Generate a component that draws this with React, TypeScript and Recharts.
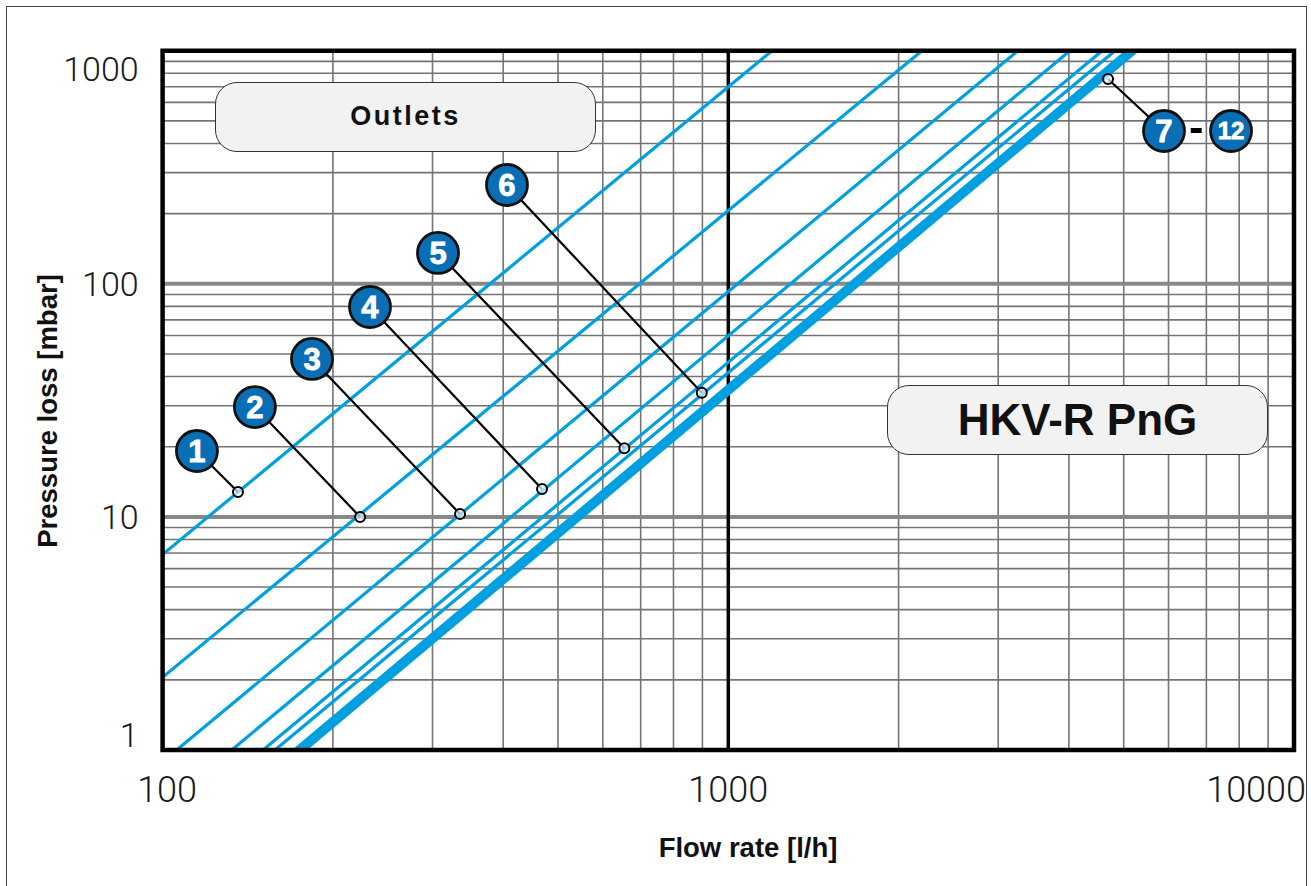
import React from 'react';
import { LineChart, Line, XAxis, YAxis, ReferenceLine, ReferenceDot, ReferenceArea } from 'recharts';

// ---- axes ----
const flowDomain: [number, number] = [100, 10000];
const lossDomain: [number, number] = [1, 1000];
const flowTicks = [100, 1000, 10000];
const lossTicks = [1, 10, 100, 1000];
const flowMinorGrid = [200, 300, 400, 500, 600, 700, 800, 900, 2000, 3000, 4000, 5000, 6000, 7000, 8000, 9000];
const flowMajorGrid = [1000];
const lossMinorGrid = [2, 3, 4, 5, 6, 7, 8, 9, 20, 30, 40, 50, 60, 70, 80, 90, 200, 300, 400, 500, 600, 700, 800, 900];
const lossMajorGrid = [10, 100];

// ---- outlet characteristic lines (start point / end point, flow l/h, loss mbar) ----
const outletIds = ['1', '2', '3', '4', '5', '6', '7', '8', '9', '10', '11', '12'];
const startFlow = [100, 100, 105.9, 132.5, 150.5, 158, 171, 172.5, 174, 175.5, 177, 178.5];
const startLoss = [6.9, 2.05, 1, 1, 1, 1, 1, 1, 1, 1, 1, 1];
const endFlow = [1195, 2200, 3252, 4018, 4581, 4827, 5070, 5110, 5150, 5190, 5230, 5280];
const endLoss = [1000, 1000, 1000, 1000, 1000, 1000, 1000, 1000, 1000, 1000, 1000, 1000];

// ---- callouts ----
const calloutLabels = ['1', '2', '3', '4', '5', '6', '7'];
const calloutPointFlow = [135.9, 223.4, 335.6, 468.5, 655, 897.6, 4691];
const calloutPointLoss = [12.79, 10.0, 10.29, 13.17, 19.7, 34.1, 756];
const calloutBadgeFlow = [115.0, 145.6, 183.7, 232.6, 306.8, 406.2, 5891];
const calloutBadgeLoss = [19.17, 29.6, 47.6, 79.5, 135.6, 265.4, 452.4];
const rangeEndLabel = '12';
const rangeEndFlow = 7740;
const rangeEndLoss = 452.4;
const rangeDashFlow = [6568, 6867];
const rangeDashLoss = 454.7;

const lineBlue = '#00a0e0';
const badgeBlue = '#0a6eb4';
const gridGray = '#747474';

const lineData = outletIds.map((id, i) => ({
  id,
  data: [
    { q: startFlow[i], p: startLoss[i] },
    { q: endFlow[i], p: endLoss[i] },
  ],
}));

const tickFont = 'Roboto, "Liberation Sans", Arial, sans-serif';
const boldFont = '"Liberation Sans", Arial, Helvetica, sans-serif';

const XTick = (props: any) => {
  const { x, y, payload } = props;
  const v = payload.value;
  let anchor: any = 'middle';
  let dx = 0;
  if (v === 10000) {
    anchor = 'end';
    dx = 12;
  }
  if (v === 100) dx = 4.5;
  return (
    <text x={x + dx} y={y + 52} textAnchor={anchor} fontSize={36} fontFamily={tickFont} fontWeight={300} fill="#1a1a1a">
      {v}
    </text>
  );
};

const YTick = (props: any) => {
  const { x, y, payload } = props;
  const v = payload.value;
  let dy = 12;
  if (v === 1000) dy = 30;
  if (v === 1) dy = -3;
  return (
    <text x={x - 24} y={y + dy} textAnchor="end" fontSize={34} fontFamily={tickFont} fontWeight={300} fill="#1a1a1a">
      {v}
    </text>
  );
};

const makeBadge = (label: string) => (props: any) => {
  const { cx, cy } = props;
  return (
    <g>
      <circle cx={cx} cy={cy} r={20.5} fill={badgeBlue} stroke="#111" strokeWidth={2.8} />
      <text
        x={cx}
        y={cy}
        dy={label.length > 1 ? 8.5 : 11}
        textAnchor="middle"
        fill="#fff"
        fontSize={label.length > 1 ? 24 : 31}
        fontWeight={900}
        fontFamily={boldFont}
        stroke="#fff"
        strokeWidth={0.8}
      >
        {label}
      </text>
    </g>
  );
};

const smallDot = (props: any) => {
  const { cx, cy } = props;
  return <circle cx={cx} cy={cy} r={5} fill="#e6f4fb" fillOpacity={0.7} stroke="#000" strokeWidth={2} />;
};

export default function App() {
  return (
    <div style={{ position: 'absolute', left: 0, top: 0, width: 1311, height: 886, overflow: 'hidden', background: '#fff' }}>
      <div
        style={{
          position: 'absolute',
          left: 6,
          top: 6,
          width: 1301,
          height: 920,
          border: '1.5px solid #444',
          boxSizing: 'border-box',
        }}
      />
      <div style={{ position: 'absolute', left: 0, top: 0 }}>
        <LineChart width={1311} height={886} margin={{ top: 50.7, right: 17, bottom: 86, left: 62.6 }}>
          <XAxis
            type="number"
            dataKey="q"
            scale="log"
            domain={flowDomain}
            allowDataOverflow
            ticks={flowTicks}
            interval={0}
            axisLine={false}
            tickLine={false}
            tickSize={0}
            tickMargin={0}
            height={50}
            tick={(p: any) => <XTick {...p} />}
          />
          <YAxis
            type="number"
            dataKey="p"
            scale="log"
            domain={lossDomain}
            allowDataOverflow
            ticks={lossTicks}
            interval={0}
            axisLine={false}
            tickLine={false}
            tickSize={0}
            tickMargin={0}
            width={100}
            tick={(p: any) => <YTick {...p} />}
          />
          {lossMinorGrid.map((v) => (
            <ReferenceLine key={'ly' + v} y={v} stroke={gridGray} strokeWidth={1.6} zIndex={-100} />
          ))}
          {flowMinorGrid.map((v) => (
            <ReferenceLine key={'lx' + v} x={v} stroke={gridGray} strokeWidth={1.6} zIndex={-100} />
          ))}
          {lossMajorGrid.map((v) => (
            <ReferenceLine key={'my' + v} y={v} stroke="#888" strokeWidth={4} zIndex={-90} />
          ))}
          {flowMajorGrid.map((v) => (
            <ReferenceLine key={'mx' + v} x={v} stroke="#000" strokeWidth={3.5} zIndex={-90} />
          ))}
          {lineData.map((s) => (
            <Line
              key={s.id}
              data={s.data}
              dataKey="p"
              type="linear"
              stroke={lineBlue}
              strokeWidth={3.2}
              dot={false}
              activeDot={false}
              isAnimationActive={false}
              zIndex={400}
            />
          ))}
          <ReferenceArea
            x1={flowDomain[0]}
            x2={flowDomain[1]}
            y1={lossDomain[0]}
            y2={lossDomain[1]}
            fill="none"
            fillOpacity={0}
            stroke="#000"
            strokeWidth={4.5}
            ifOverflow="visible"
            zIndex={450}
          />
          {calloutLabels.map((l, i) => (
            <ReferenceLine
              key={'c' + l}
              segment={[
                { x: calloutBadgeFlow[i], y: calloutBadgeLoss[i] },
                { x: calloutPointFlow[i], y: calloutPointLoss[i] },
              ]}
              stroke="#000"
              strokeWidth={2.2}
              strokeOpacity={1}
              ifOverflow="visible"
              zIndex={500}
            />
          ))}
          <ReferenceLine
            segment={[
              { x: rangeDashFlow[0], y: rangeDashLoss },
              { x: rangeDashFlow[1], y: rangeDashLoss },
            ]}
            stroke="#000"
            strokeWidth={5}
            strokeOpacity={1}
            ifOverflow="visible"
            zIndex={500}
          />
          {calloutLabels.map((l, i) => (
            <ReferenceDot
              key={'d' + l}
              x={calloutPointFlow[i]}
              y={calloutPointLoss[i]}
              r={5}
              shape={smallDot}
              ifOverflow="visible"
              zIndex={600}
            />
          ))}
          {calloutLabels.map((l, i) => (
            <ReferenceDot
              key={'b' + l}
              x={calloutBadgeFlow[i]}
              y={calloutBadgeLoss[i]}
              r={20}
              shape={makeBadge(l)}
              ifOverflow="visible"
              zIndex={700}
            />
          ))}
          <ReferenceDot
            x={rangeEndFlow}
            y={rangeEndLoss}
            r={20}
            shape={makeBadge(rangeEndLabel)}
            ifOverflow="visible"
            zIndex={700}
          />
        </LineChart>
      </div>

      {/* Outlets box */}
      <div
        style={{
          position: 'absolute',
          left: 215,
          top: 81.5,
          width: 381,
          height: 70,
          boxSizing: 'border-box',
          borderRadius: 22,
          border: '1.2px solid #333',
          background: '#f2f2f2',
          display: 'flex',
          alignItems: 'center',
          justifyContent: 'center',
          fontFamily: boldFont,
          fontWeight: 700,
          fontSize: 27,
          letterSpacing: 2.5,
          color: '#111',
        }}
      >
        Outlets
      </div>

      {/* HKV-R PnG box */}
      <div
        style={{
          position: 'absolute',
          left: 887,
          top: 384.5,
          width: 381,
          height: 70,
          boxSizing: 'border-box',
          borderRadius: 22,
          border: '1.2px solid #333',
          background: '#f2f2f2',
          display: 'flex',
          alignItems: 'center',
          justifyContent: 'center',
          fontFamily: boldFont,
          fontWeight: 700,
          fontSize: 44,
          color: '#111',
        }}
      >
        HKV-R PnG
      </div>

      {/* axis titles */}
      <div
        style={{
          position: 'absolute',
          left: 48 - 200,
          top: 411 - 20,
          width: 400,
          height: 40,
          lineHeight: '40px',
          textAlign: 'center',
          transform: 'rotate(-90deg)',
          fontFamily: boldFont,
          fontWeight: 700,
          fontSize: 27.5,
          color: '#111',
          whiteSpace: 'nowrap',
        }}
      >
        Pressure loss [mbar]
      </div>
      <div
        style={{
          position: 'absolute',
          left: 748 - 200,
          top: 848 - 20,
          width: 400,
          height: 40,
          lineHeight: '40px',
          textAlign: 'center',
          fontFamily: boldFont,
          fontWeight: 700,
          fontSize: 27.5,
          color: '#111',
          whiteSpace: 'nowrap',
        }}
      >
        Flow rate [l/h]
      </div>
    </div>
  );
}
